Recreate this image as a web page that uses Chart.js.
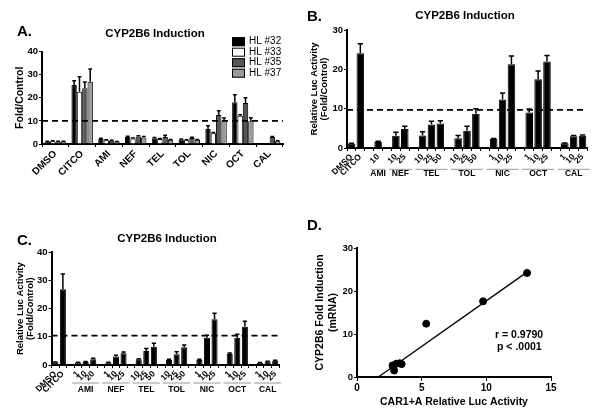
<!DOCTYPE html>
<html>
<head>
<meta charset="utf-8">
<script src="https://cdn.jsdelivr.net/npm/chart.js@4.4.1/dist/chart.umd.min.js"></script>
<style>
body { margin: 0; background: #fff; }
#wrap { position: relative; width: 600px; height: 414px; overflow: hidden; font-family: 'Liberation Sans', Arial, sans-serif; }
canvas { position: absolute; }
.txt { position: absolute; font-weight: bold; color: #000; white-space: nowrap; line-height: 1; }
.mid { transform: translateX(-50%); }
</style>
</head>
<body>
<div id="wrap">
  <canvas id="chartA" width="300" height="207" style="left:0;top:0"></canvas>
  <canvas id="chartB" width="300" height="207" style="left:300px;top:0"></canvas>
  <canvas id="chartC" width="300" height="207" style="left:0;top:207px"></canvas>
  <canvas id="chartD" width="300" height="207" style="left:300px;top:207px"></canvas>

  <div class="txt" style="left:17px;top:23px;font-size:15px">A.</div>
  <div class="txt mid" style="left:155px;top:28px;font-size:11.5px">CYP2B6 Induction</div>
  <div class="txt" style="left:307px;top:8px;font-size:15px">B.</div>
  <div class="txt mid" style="left:465px;top:10px;font-size:11.5px">CYP2B6 Induction</div>
  <div class="txt" style="left:17px;top:232px;font-size:15px">C.</div>
  <div class="txt mid" style="left:167px;top:233px;font-size:11.5px">CYP2B6 Induction</div>
  <div class="txt" style="left:307px;top:217px;font-size:15px">D.</div>
  <div class="txt" style="left:495px;top:329px;font-size:10.5px">r = 0.9790</div>
  <div class="txt" style="left:497px;top:341px;font-size:10.5px">p &lt; .0001</div>
</div>
<script>
// panel A: qPCR fold induction, four donors
const categoriesA = ['DMSO', 'CITCO', 'AMI', 'NEF', 'TEL', 'TOL', 'NIC', 'OCT', 'CAL'];
const donorsA = ['HL #32', 'HL #33', 'HL #35', 'HL #37'];
const hl32 = [1.0, 25.5, 2.2, 3.0, 2.5, 2.0, 6.5, 18.1, null];
const hl32Err = [1.2, 27.4, 2.5, 3.3, 2.8, 2.2, 7.9, 21.3, null];
const hl33 = [1.2, 22.6, 1.6, 2.4, 2.2, 1.6, 4.7, 12.2, null];
const hl33Err = [1.4, 29.1, 1.8, 2.6, 2.4, 1.8, 5.0, 12.7, null];
const hl35 = [1.0, 24.1, 1.4, 3.2, 3.0, 2.6, 12.5, 17.7, 3.0];
const hl35Err = [1.2, 26.8, 1.6, 3.6, 3.8, 2.9, 14.4, 20.0, 3.2];
const hl37 = [1.0, 26.9, 1.0, 2.8, 1.8, 1.8, 10.2, 9.8, 1.2];
const hl37Err = [1.2, 32.4, 1.1, 3.2, 2.0, 2.0, 11.2, 11.4, 1.4];
const cutoffA = 10;

// panel B: luciferase, empty labels are gaps between drugs
const labelsB = ['DMSO', 'CITCO', '', '10', '', '10', '25', '', '10', '25', '50', '', '10', '25', '50', '', '1', '10', '25', '', '1', '10', '25', '', '1', '10', '25'];
const valuesB = [1.1, 24.1, null, 1.5, null, 3.1, 4.8, null, 3.2, 6.0, 6.2, null, 2.5, 4.4, 8.7, null, 2.3, 12.3, 21.3, null, 9.0, 17.5, 22.0, null, 1.2, 3.0, 3.1];
const errB = [1.2, 26.5, null, 1.7, null, 4.0, 5.5, null, 4.1, 6.8, 6.9, null, 3.2, 5.5, 10.0, null, 2.4, 14.0, 23.4, null, 9.9, 19.6, 23.5, null, 1.3, 3.2, 3.3];
const groupsB = ['AMI', 'NEF', 'TEL', 'TOL', 'NIC', 'OCT', 'CAL'];
const groupStartB = [3, 5, 8, 12, 16, 20, 24];
const groupEndB = [3, 6, 10, 14, 18, 22, 26];
const cutoffB = 9.7;

// panel C
const labelsC = ['DMSO', 'CITCO', '', '1', '10', '20', '', '1', '10', '25', '', '10', '25', '50', '', '10', '25', '50', '', '1', '10', '25', '', '1', '10', '25', '', '1', '10', '25'];
const valuesC = [1.0, 26.9, null, 0.9, 1.1, 2.0, null, 0.9, 3.0, 4.2, null, 2.0, 5.0, 6.5, null, 1.8, 3.8, 6.3, null, 1.8, 9.7, 16.2, null, 3.9, 9.7, 13.6, null, 0.8, 1.2, 1.5];
const errC = [1.1, 32.3, null, 1.0, 1.2, 2.4, null, 1.0, 3.5, 4.6, null, 2.2, 5.9, 7.7, null, 2.0, 4.7, 7.1, null, 2.0, 10.6, 18.4, null, 4.3, 10.9, 15.5, null, 0.9, 1.3, 1.7];
const groupsC = ['AMI', 'NEF', 'TEL', 'TOL', 'NIC', 'OCT', 'CAL'];
const groupStartC = [3, 7, 11, 15, 19, 23, 27];
const groupEndC = [5, 9, 13, 17, 21, 25, 29];
const cutoffC = 10.4;

// panel D: correlation
const carLuc = [2.75, 2.87, 3.05, 3.3, 3.45, 5.35, 9.75, 13.15];
const mrnaFold = [2.7, 1.5, 3.1, 3.2, 3.0, 12.4, 17.6, 24.2];
const fitX = [1.65, 13.2];
const fitY = [0, 24.5];

Chart.defaults.font.family = "'Liberation Sans', Arial, sans-serif";
Chart.defaults.font.weight = 'bold';
Chart.defaults.color = '#000';
Chart.defaults.animation = false;

const errorBars = {
    id: 'errorBars',
    afterDatasetsDraw(chart) {
        const ctx = chart.ctx;
        const y = chart.scales.y;
        chart.data.datasets.forEach((ds, i) => {
            if (!ds.errTop) return;
            chart.getDatasetMeta(i).data.forEach((bar, j) => {
                if (ds.data[j] == null || ds.errTop[j] == null) return;
                const yTop = y.getPixelForValue(ds.errTop[j]);
                const half = bar.width * 0.35;
                ctx.save();
                ctx.strokeStyle = '#000';
                ctx.lineWidth = 1.5;
                ctx.beginPath();
                ctx.moveTo(bar.x, bar.y);
                ctx.lineTo(bar.x, yTop);
                ctx.moveTo(bar.x - half, yTop);
                ctx.lineTo(bar.x + half, yTop);
                ctx.stroke();
                ctx.restore();
            });
        });
    }
};

const cutoffLine = {
    id: 'cutoffLine',
    afterDatasetsDraw(chart, args, opts) {
        if (opts.value == null) return;
        const { ctx, chartArea } = chart;
        const yPix = chart.scales.y.getPixelForValue(opts.value);
        ctx.save();
        ctx.setLineDash([6, 4]);
        ctx.lineWidth = 1.8;
        ctx.strokeStyle = '#000';
        ctx.beginPath();
        ctx.moveTo(chartArea.left, yPix);
        ctx.lineTo(chartArea.right, yPix);
        ctx.stroke();
        ctx.restore();
    }
};

const drugGroups = {
    id: 'drugGroups',
    afterDraw(chart, args, opts) {
        if (!opts.names) return;
        const ctx = chart.ctx;
        const x = chart.scales.x;
        const slot = x.getPixelForValue(1) - x.getPixelForValue(0);
        ctx.save();
        opts.names.forEach((name, i) => {
            const x0 = x.getPixelForValue(opts.start[i]) - slot * 0.8;
            const x1 = x.getPixelForValue(opts.end[i]) + slot * 0.8;
            ctx.strokeStyle = '#999';
            ctx.lineWidth = 1;
            ctx.beginPath();
            ctx.moveTo(x0, opts.lineY);
            ctx.lineTo(x1, opts.lineY);
            ctx.stroke();
            ctx.fillStyle = '#000';
            ctx.font = "bold 8.5px 'Liberation Sans', Arial, sans-serif";
            ctx.textAlign = 'center';
            ctx.textBaseline = 'middle';
            ctx.fillText(name, (x0 + x1) / 2, opts.textY);
        });
        ctx.restore();
    }
};

const boxLegend = {
    id: 'boxLegend',
    afterDraw(chart, args, opts) {
        if (!opts.show) return;
        const ctx = chart.ctx;
        ctx.save();
        chart.data.datasets.forEach((ds, i) => {
            const yc = opts.top + i * opts.step;
            ctx.fillStyle = ds.backgroundColor;
            ctx.fillRect(opts.left, yc - 4.5, 13, 9);
            ctx.strokeStyle = '#000';
            ctx.lineWidth = 1;
            ctx.strokeRect(opts.left + 0.5, yc - 4, 12, 8);
            ctx.fillStyle = '#000';
            ctx.font = "10px 'Liberation Sans', Arial, sans-serif";
            ctx.textAlign = 'left';
            ctx.textBaseline = 'middle';
            ctx.fillText(ds.label, opts.left + 17, yc);
        });
        ctx.restore();
    }
};

function valueAxis(max, width, title, pad, size, lh) {
    return {
        min: 0,
        max: max,
        ticks: { stepSize: 10, font: { size: 9.5 }, padding: 1 },
        grid: { drawOnChartArea: false, tickLength: 3, color: '#000', lineWidth: 1 },
        border: { color: '#000', width: 2 },
        title: { display: true, text: title, font: { size: size, lineHeight: lh || 1.2 }, padding: { top: pad, bottom: 0 } },
        afterFit: function (s) { s.width = width; }
    };
}

function categoryAxis(height, size) {
    return {
        offset: true,
        grid: { drawOnChartArea: false, tickLength: 3, color: '#000', lineWidth: 1 },
        border: { color: '#000', width: 2 },
        ticks: { autoSkip: false, minRotation: 45, maxRotation: 45, font: { size: size }, padding: 1 },
        afterFit: function (s) { s.height = height; s.paddingLeft = 0; s.paddingRight = 0; }
    };
}

function barSet(label, data, err, color) {
    return {
        label: label,
        data: data,
        errTop: err,
        backgroundColor: color,
        borderColor: '#000',
        borderWidth: 1,
        categoryPercentage: 0.8,
        barPercentage: 1.0
    };
}

new Chart(document.getElementById('chartA'), {
    type: 'bar',
    data: {
        labels: categoriesA,
        datasets: [
            barSet(donorsA[0], hl32, hl32Err, '#000000'),
            barSet(donorsA[1], hl33, hl33Err, '#ffffff'),
            barSet(donorsA[2], hl35, hl35Err, '#555555'),
            barSet(donorsA[3], hl37, hl37Err, '#9a9a9a')
        ]
    },
    options: {
        responsive: false,
        layout: { padding: { left: 0, right: 17, top: 51.5, bottom: 0 } },
        plugins: {
            legend: { display: false },
            tooltip: { enabled: false },
            cutoffLine: { value: cutoffA },
            boxLegend: { show: true, left: 232, top: 41.7, step: 10.5 }
        },
        scales: {
            x: categoryAxis(63, 10),
            y: valueAxis(40, 42, 'Fold/Control', 14, 10.5)
        }
    },
    plugins: [errorBars, cutoffLine, boxLegend]
});

function singleBarChart(id, labels, values, err, cutoff, groups, area) {
    new Chart(document.getElementById(id), {
        type: 'bar',
        data: {
            labels: labels,
            datasets: [{
                data: values,
                errTop: err,
                backgroundColor: '#000',
                borderColor: '#000',
                borderWidth: 1,
                categoryPercentage: area.fill,
                barPercentage: 1.0
            }]
        },
        options: {
            responsive: false,
            layout: { padding: { left: 0, right: area.right, top: area.top, bottom: 0 } },
            plugins: {
                legend: { display: false },
                tooltip: { enabled: false },
                cutoffLine: { value: cutoff },
                drugGroups: groups
            },
            scales: {
                x: categoryAxis(area.xHeight, 8.5),
                y: valueAxis(area.max, area.left, ['Relative Luc Activity', '(Fold/Control)'], area.titlePad, 9.5, 1.1)
            }
        },
        plugins: [errorBars, cutoffLine, drugGroups]
    });
}

singleBarChart('chartB', labelsB, valuesB, errB, cutoffB,
    { names: groupsB, start: groupStartB, end: groupEndB, lineY: 169.3, textY: 174 },
    { left: 47, right: 13, top: 30, xHeight: 59, max: 30, titlePad: 9, fill: 0.85 });

singleBarChart('chartC', labelsC, valuesC, errC, cutoffC,
    { names: groupsC, start: groupStartC, end: groupEndC, lineY: 176, textY: 183 },
    { left: 51.5, right: 21, top: 45.3, xHeight: 49, max: 40, titlePad: 15, fill: 0.8 });

new Chart(document.getElementById('chartD'), {
    type: 'scatter',
    data: {
        datasets: [
            {
                data: carLuc.map((x, i) => ({ x: x, y: mrnaFold[i] })),
                pointRadius: 3.5,
                backgroundColor: '#000',
                borderColor: '#000'
            },
            {
                data: fitX.map((x, i) => ({ x: x, y: fitY[i] })),
                showLine: true,
                pointRadius: 0,
                borderColor: '#000',
                borderWidth: 1.3
            }
        ]
    },
    options: {
        responsive: false,
        layout: { padding: { left: 0, right: 49, top: 41, bottom: 0 } },
        plugins: { legend: { display: false }, tooltip: { enabled: false } },
        scales: {
            x: {
                type: 'linear',
                min: 0,
                max: 15,
                ticks: { stepSize: 5, font: { size: 10 }, padding: 1 },
                grid: { drawOnChartArea: false, tickLength: 4, color: '#000', lineWidth: 1 },
                border: { color: '#000', width: 2 },
                title: { display: true, text: 'CAR1+A Relative Luc Activity', font: { size: 10.5 }, padding: { top: 0, bottom: 6 } },
                afterFit: function (s) { s.height = 37; s.paddingLeft = 0; s.paddingRight = 0; }
            },
            y: valueAxis(30, 57, ['CYP2B6 Fold Induction', '(mRNA)'], 14, 10.5)
        }
    }
});
</script>
</body>
</html>
